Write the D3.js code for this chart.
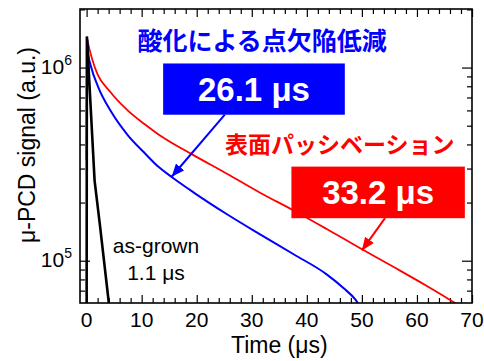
<!DOCTYPE html>
<html>
<head>
<meta charset="utf-8">
<script src="https://cdn.jsdelivr.net/npm/d3@7"></script>
<style>
  body { margin: 0; background: #fff; }
  text { font-family: "Liberation Sans", Arial, sans-serif; }
  .jp { font-family: "Noto Sans CJK JP", sans-serif; font-weight: bold; }
</style>
</head>
<body>
<svg id="chart"></svg>
<script>
// values: time in µs, signal in a.u.
const blueTime   = [0, 0.08, 0.25, 0.85, 2.05, 4.47, 7.5, 10.5, 13.0, 15.7, 19.4, 25.5, 31.5, 37.6, 43.6, 46.7, 48.8, 49.5];
const blueSignal = [3.3e5, 1.43e6, 1.2e6, 1.0e6, 8.0e5, 5.9e5, 4.46e5, 3.62e5, 3.07e5, 2.68e5, 2.26e5, 1.74e5, 1.37e5, 1.08e5, 8.5e4, 7.2e4, 6.3e4, 5.9e4];

const redTime   = [0.05, 0.5, 1.45, 4.47, 7.5, 10.5, 13.0, 19.4, 25.5, 31.5, 37.6, 43.6, 49.7, 55.7, 61.8, 65.5, 67.5];
const redSignal = [1.43e6, 1.25e6, 1.01e6, 7.38e5, 5.99e5, 5.1e5, 4.52e5, 3.52e5, 2.82e5, 2.25e5, 1.82e5, 1.46e5, 1.16e5, 9.3e4, 7.4e4, 6.4e4, 5.9e4];

const blackTime   = [0, 0.05, 1.45, 2.42, 4.2];
const blackSignal = [4e4, 1.45e6, 2.6e5, 1.53e5, 5.5e4];

const xMajorTicks = [0, 10, 20, 30, 40, 50, 60, 70];
const xMinorTicks = d3.range(2, 70, 2).filter(d => d % 10 != 0);
const yMajorTicks = [1e5, 1e6];
const yMinorTicks = [7e4, 8e4, 9e4, 2e5, 3e5, 4e5, 5e5, 6e5, 7e5, 8e5, 9e5, 2e6];
const yTickExp = ["5", "6"];

const width = 484, height = 361;
const plotLeft = 80, plotRight = 472, plotTop = 9, plotBottom = 303;

const svg = d3.select("#chart").attr("width", width).attr("height", height);

const x = d3.scaleLinear().domain([-1.2, 70]).range([plotLeft, plotRight]);
const y = d3.scaleLog().domain([6.04e4, 2.01e6]).range([plotBottom, plotTop]);

const defs = svg.append("defs");
defs.append("clipPath").attr("id", "plot")
  .append("rect").attr("x", plotLeft).attr("y", plotTop)
  .attr("width", plotRight - plotLeft).attr("height", plotBottom - plotTop);

// ticks, all pointing inward
function tickAxis(axis, values, size, transform) {
  svg.append("g")
    .attr("transform", transform)
    .call(axis.tickValues(values).tickSize(-size).tickFormat(""))
    .call(g => g.select(".domain").remove())
    .selectAll("line").attr("stroke", "#000").attr("stroke-width", 1.2);
}
tickAxis(d3.axisBottom(x), xMajorTicks, 8, `translate(0,${plotBottom})`);
tickAxis(d3.axisBottom(x), xMinorTicks, 5, `translate(0,${plotBottom})`);
tickAxis(d3.axisTop(x), xMajorTicks, 8, `translate(0,${plotTop})`);
tickAxis(d3.axisTop(x), xMinorTicks, 5, `translate(0,${plotTop})`);
tickAxis(d3.axisLeft(y), yMajorTicks, 10, `translate(${plotLeft},0)`);
tickAxis(d3.axisLeft(y), yMinorTicks, 5, `translate(${plotLeft},0)`);
tickAxis(d3.axisRight(y), yMajorTicks, 10, `translate(${plotRight},0)`);
tickAxis(d3.axisRight(y), yMinorTicks, 5, `translate(${plotRight},0)`);

// x tick labels
svg.append("g").selectAll("text").data(xMajorTicks).join("text")
  .attr("x", d => x(d))
  .attr("y", 327)
  .attr("text-anchor", "middle")
  .attr("font-size", 21)
  .text(d => d);

// y tick labels 10^5, 10^6
const yLab = svg.append("g").selectAll("text").data(yMajorTicks).join("text")
  .attr("x", 72)
  .attr("y", d => y(d) + 6)
  .attr("text-anchor", "end")
  .attr("font-size", 21);
yLab.append("tspan").text("10");
yLab.append("tspan").attr("dy", -9).attr("font-size", 14).text((d, i) => yTickExp[i]);

// axis titles
svg.append("text")
  .attr("transform", "translate(35,145) rotate(-90)")
  .attr("text-anchor", "middle")
  .attr("font-size", 23)
  .text("μ-PCD signal (a.u.)");
svg.append("text")
  .attr("x", x(35))
  .attr("y", 353)
  .attr("text-anchor", "middle")
  .attr("font-size", 23)
  .text("Time (μs)");

// curves
const line = d3.line().x(d => x(d[0])).y(d => y(d[1])).curve(d3.curveMonotoneX);
const plot = svg.append("g").attr("clip-path", "url(#plot)");
plot.append("path").datum(d3.zip(redTime, redSignal))
  .attr("d", line).attr("fill", "none").attr("stroke", "#ff0000").attr("stroke-width", 1.8);
plot.append("path").datum(d3.zip(blueTime, blueSignal))
  .attr("d", line).attr("fill", "none").attr("stroke", "#0000ff").attr("stroke-width", 2);
plot.append("path").datum(d3.zip(blackTime, blackSignal))
  .attr("d", d3.line().x(d => x(d[0])).y(d => y(d[1])))
  .attr("fill", "none").attr("stroke", "#000").attr("stroke-width", 2.6);

// frame
svg.append("rect")
  .attr("x", plotLeft).attr("y", plotTop)
  .attr("width", plotRight - plotLeft).attr("height", plotBottom - plotTop)
  .attr("fill", "none").attr("stroke", "#000").attr("stroke-width", 1.6);

// arrow heads
[["blue", "#0000ff"], ["red", "#ff0000"]].forEach(([id, c]) => {
  defs.append("marker").attr("id", "head-" + id)
    .attr("viewBox", "0 0 12 10").attr("refX", 12).attr("refY", 5)
    .attr("markerWidth", 13).attr("markerHeight", 11)
    .attr("markerUnits", "userSpaceOnUse").attr("orient", "auto")
    .append("path").attr("d", "M0,0 L12,5 L0,10 Z").attr("fill", c);
});

// annotations (positions in data units)
function note(opts) {
  const bx0 = x(opts.box[0]), bx1 = x(opts.box[1]);
  const by0 = y(opts.box[2]), by1 = y(opts.box[3]);
  svg.append("text").attr("class", "jp")
    .attr("x", x(opts.title[0])).attr("y", y(opts.title[1]))
    .attr("text-anchor", "middle").attr("font-size", opts.titleSize)
    .attr("fill", opts.color).text(opts.titleText);
  svg.append("line")
    .attr("x1", x(opts.arrow[0])).attr("y1", y(opts.arrow[1]))
    .attr("x2", x(opts.arrow[2])).attr("y2", y(opts.arrow[3]))
    .attr("stroke", opts.color).attr("stroke-width", 2)
    .attr("marker-end", `url(#head-${opts.id})`);
  svg.append("rect")
    .attr("x", bx0).attr("y", by0).attr("width", bx1 - bx0).attr("height", by1 - by0)
    .attr("fill", opts.color);
  svg.append("text")
    .attr("x", (bx0 + bx1) / 2).attr("y", (by0 + by1) / 2 + 12)
    .attr("text-anchor", "middle").attr("font-size", 33).attr("font-weight", "bold")
    .attr("fill", "#fff").text(opts.value);
}
note({id: "blue", color: "#0000ff", titleText: "酸化による点欠陥低減", titleSize: 25,
      title: [31.9, 1.24e6], box: [13.9, 46.9, 1.05e6, 5.7e5],
      arrow: [25.1, 5.7e5, 15.45, 2.72e5], value: "26.1 μs"});
note({id: "red", color: "#ff0000", titleText: "表面パッシベーション", titleSize: 23,
      title: [46.0, 3.6e5], box: [37.2, 68.7, 3.07e5, 1.66e5],
      arrow: [54.2, 1.66e5, 50.0, 1.13e5], value: "33.2 μs"});

svg.append("text").attr("x", x(12.6)).attr("y", y(1.09e5))
  .attr("text-anchor", "middle").attr("font-size", 21).text("as-grown");
svg.append("text").attr("x", x(12.6)).attr("y", y(7.9e4))
  .attr("text-anchor", "middle").attr("font-size", 21).text("1.1 μs");
</script>
</body>
</html>
